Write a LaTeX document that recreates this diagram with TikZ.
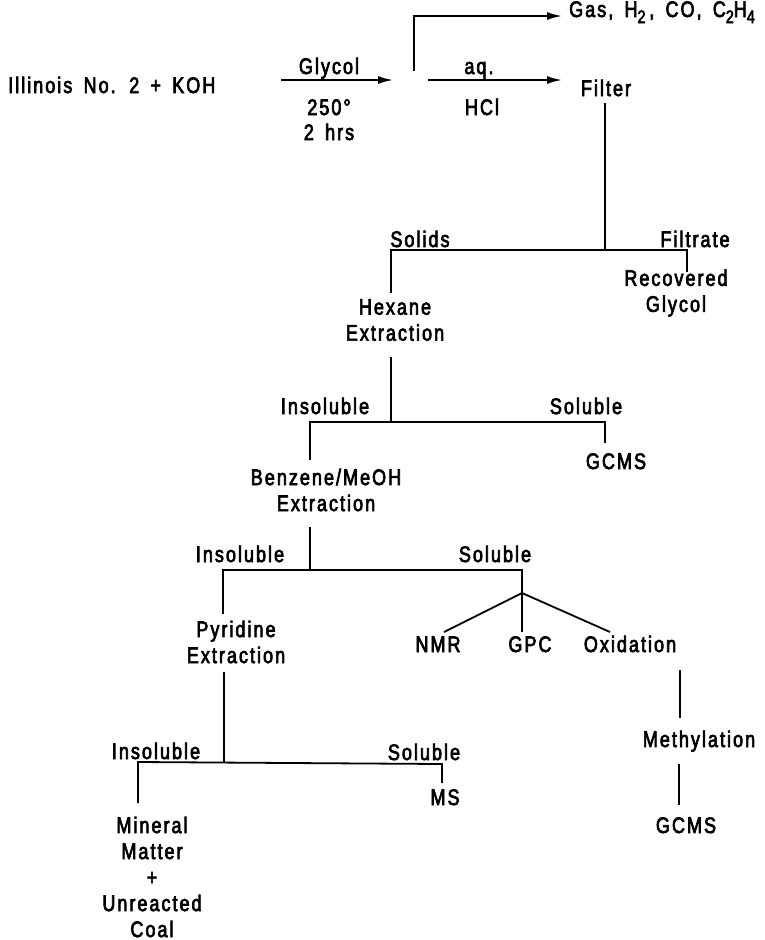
\documentclass[tikz,border=0pt]{standalone}
\usepackage{fontspec}
\setmainfont{Liberation Sans}[FakeStretch=0.8,LetterSpace=9,FakeBold=3,WordSpace=1.6]
\usetikzlibrary{arrows.meta}
\newcommand\lowsub[1]{\raisebox{-6pt}{\fontsize{18}{18}\selectfont #1}}
\begin{document}
\begin{tikzpicture}[x=1pt,y=-1pt,
  lbl/.style={inner sep=0pt,font=\fontsize{22.5}{26}\selectfont},
  blk/.style={lbl,align=center},
  ln/.style={line width=1.8pt},
  arr/.style={ln,-{Latex[length=15pt,width=8pt]}}]
\fill[white] (0,0) rectangle (765,940);
\useasboundingbox (0,0) rectangle (765,940);

% ---- reaction step ----
\node[lbl,anchor=base west] (coal) at (8,93) {Illinois No. 2 + KOH};
\node[lbl,anchor=base] (glycol) at (329,74) {Glycol};
\node[lbl,anchor=base] (temp) at (329,115) {250°};
\node[lbl,anchor=base] (time) at (329,140) {2 hrs};
\node[lbl,anchor=base] (aq) at (479,74) {aq.};
\node[lbl,anchor=base] (hcl) at (482,115) {HCl};
\node[lbl,anchor=base west] (gas) at (569,17) {Gas, H\lowsub{2}\,, CO, C\lowsub{2}H\lowsub{4}};
\node[lbl,anchor=base] (filter) at (606,96) {Filter};

\coordinate (r1s) at (281,80);
\coordinate (r1e) at (393,80);
\coordinate (vb) at (414,71);
\coordinate (vt) at (414,16);
\coordinate (gt) at (562,16);
\coordinate (r2s) at (428,80);
\coordinate (r2e) at (562,80);

\draw[arr] (r1s) -- (r1e);
\draw[arr] (vb) -- (vt) -- (gt);
\draw[arr] (r2s) -- (r2e);

% ---- filtration ----
\node[lbl,anchor=base] (solids) at (420,247) {Solids};
\node[lbl,anchor=base] (filtrate) at (695,247) {Filtrate};
\node[blk] (glyc) at (676,293) {Recovered\\Glycol};
\node[blk] (hex) at (395,320) {Hexane\\Extraction};

\coordinate (f0) at (605,103);
\coordinate (f1) at (605,250);
\coordinate (fl) at (391,250);
\coordinate (fr) at (687,250);
\coordinate (frb) at (687,272);
\coordinate (flb) at (391,293);
\draw[ln] (f0) -- (f1);
\draw[ln] (flb) -- (fl) -- (fr) -- (frb);

% ---- hexane split ----
\node[lbl,anchor=base] (ins1) at (325,414) {Insoluble};
\node[lbl,anchor=base] (sol1) at (586,414) {Soluble};
\node[lbl,anchor=base] (gcms1) at (616,469) {GCMS};
\node[blk] (benz) at (326,490) {Benzene/MeOH\\Extraction};

\coordinate (h0) at (391,357);
\coordinate (h1) at (391,422);
\coordinate (hl) at (310,422);
\coordinate (hr) at (605,422);
\coordinate (hrb) at (605,443);
\coordinate (hlb) at (310,460);
\draw[ln] (h0) -- (h1);
\draw[ln] (hlb) -- (hl) -- (hr) -- (hrb);

% ---- benzene/methanol split ----
\node[lbl,anchor=base] (ins2) at (240,562) {Insoluble};
\node[lbl,anchor=base] (sol2) at (495,562) {Soluble};
\node[blk] (pyr) at (236,642) {Pyridine\\Extraction};
\node[lbl,anchor=base] (nmr) at (438,652) {NMR};
\node[lbl,anchor=base] (gpc) at (530,652) {GPC};
\node[lbl,anchor=base] (ox) at (630,652) {Oxidation};

\coordinate (b0) at (310,527);
\coordinate (b1) at (310,570);
\coordinate (bl) at (223,570);
\coordinate (br) at (522,570);
\coordinate (bf) at (522,593);
\coordinate (blb) at (223,614);
\coordinate (fn) at (444,632);
\coordinate (fg) at (522,632);
\coordinate (fo) at (610,632);
\draw[ln] (b0) -- (b1);
\draw[ln] (blb) -- (bl) -- (br) -- (bf);
\draw[ln] (bf) -- (fn);
\draw[ln] (bf) -- (fg);
\draw[ln] (bf) -- (fo);

% ---- oxidation route ----
\node[lbl,anchor=base] (meth) at (699,747) {Methylation};
\node[lbl,anchor=base] (gcms2) at (686,833) {GCMS};
\coordinate (o0) at (680,670);
\coordinate (o1) at (680,718);
\coordinate (m0) at (679,764);
\coordinate (m1) at (679,805);
\draw[ln] (o0) -- (o1);
\draw[ln] (m0) -- (m1);

% ---- pyridine split ----
\node[lbl,anchor=base] (ins3) at (156,759) {Insoluble};
\node[lbl,anchor=base] (sol3) at (424,760) {Soluble};
\node[lbl,anchor=base] (ms) at (445,805) {MS};
\node[blk] (res) at (152,877) {Mineral\\Matter\\+\\Unreacted\\Coal};

\coordinate (p0) at (224,672);
\coordinate (p1) at (224,762);
\coordinate (pl) at (138,762);
\coordinate (pr) at (442,764);
\coordinate (prb) at (442,783);
\coordinate (plb) at (138,803);
\draw[ln] (p0) -- (p1);
\draw[ln] (plb) -- (pl) -- (pr) -- (prb);
\end{tikzpicture}
\end{document}
